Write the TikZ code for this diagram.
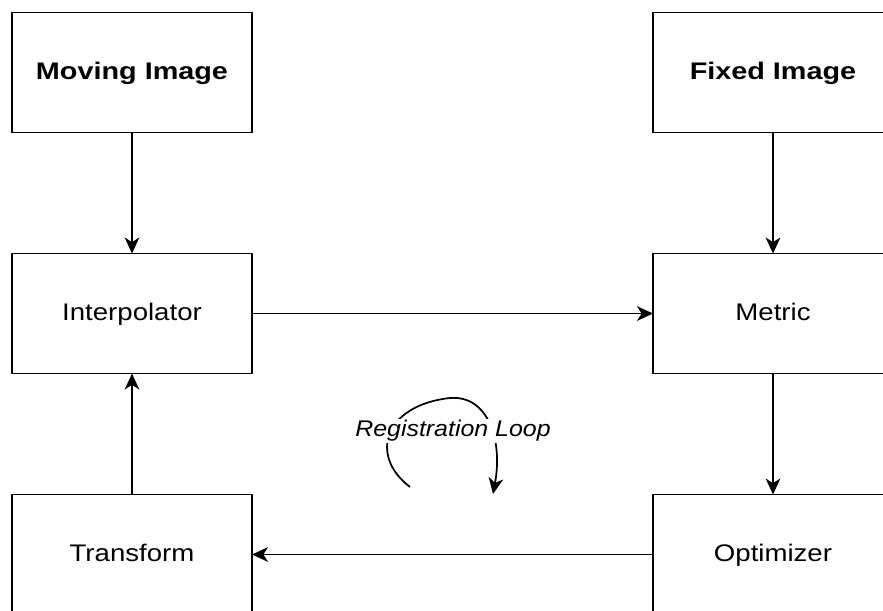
\documentclass[tikz,border=0pt]{standalone}
\usepackage{fontspec}
\setmainfont{Liberation Sans}[FakeStretch=1.15]
\newfontfamily\headfont{Liberation Sans}[FakeStretch=1.2]
\newfontfamily\loopfont{Liberation Sans}[FakeStretch=1.1]
\usetikzlibrary{positioning}
\usetikzlibrary{arrows.meta}
\tikzset{
    stagebox/.style={
        draw,rectangle,text=black,
        line width=1.3pt,
        minimum width=180pt,
        minimum height=90pt,
        text height=15pt,
        text depth=4pt,
        inner sep=0pt,
        outer sep=0pt,
        font=\fontsize{18pt}{21pt}\selectfont,
        },
    headbox/.style={
        stagebox,
        font=\headfont\bfseries\fontsize{18pt}{21pt}\selectfont,
        },
    flow/.style={
        -{Stealth[length=12pt,width=11pt,inset=3.5pt]},
        line width=1.3pt,
        }
    }

\begin{document}
\begin{tikzpicture}[x=0.75pt,y=0.75pt,node distance=90.75pt and 300.75pt]
    \clip (0,0) rectangle (883,-611);
    \node[headbox] (moving) at (132,-72.5) {Moving Image};
    \node[headbox] (fixed) [right=of moving] {Fixed Image};
    \node[stagebox] (interp) [below=of moving] {Interpolator};
    \node[stagebox] (metric) [right=of interp] {Metric};
    \node[stagebox] (transform) [below=of interp] {Transform};
    \node[stagebox] (optim) [right=of transform] {Optimizer};
    \draw[flow] (moving) -- (interp);
    \draw[flow] (fixed) -- (metric);
    \draw[flow] (interp) -- (metric);
    \draw[flow] (metric) -- (optim);
    \draw[flow] (optim) -- (transform);
    \draw[flow] (transform) -- (interp);
    % loop arrow, label drawn over it
    \coordinate (loopstart) at (410,-487);
    \coordinate (loopend) at (493,-494);
    \draw[flow] (loopstart) .. controls (368,-455) and (385,-405) .. (450,-398) .. controls (488,-395) and (503,-440) .. (loopend);
    \node[fill=white,inner sep=1pt,font=\loopfont\itshape\fontsize{17pt}{20pt}\selectfont] (loop) at (453,-431) {Registration Loop};
\end{tikzpicture}
\end{document}
